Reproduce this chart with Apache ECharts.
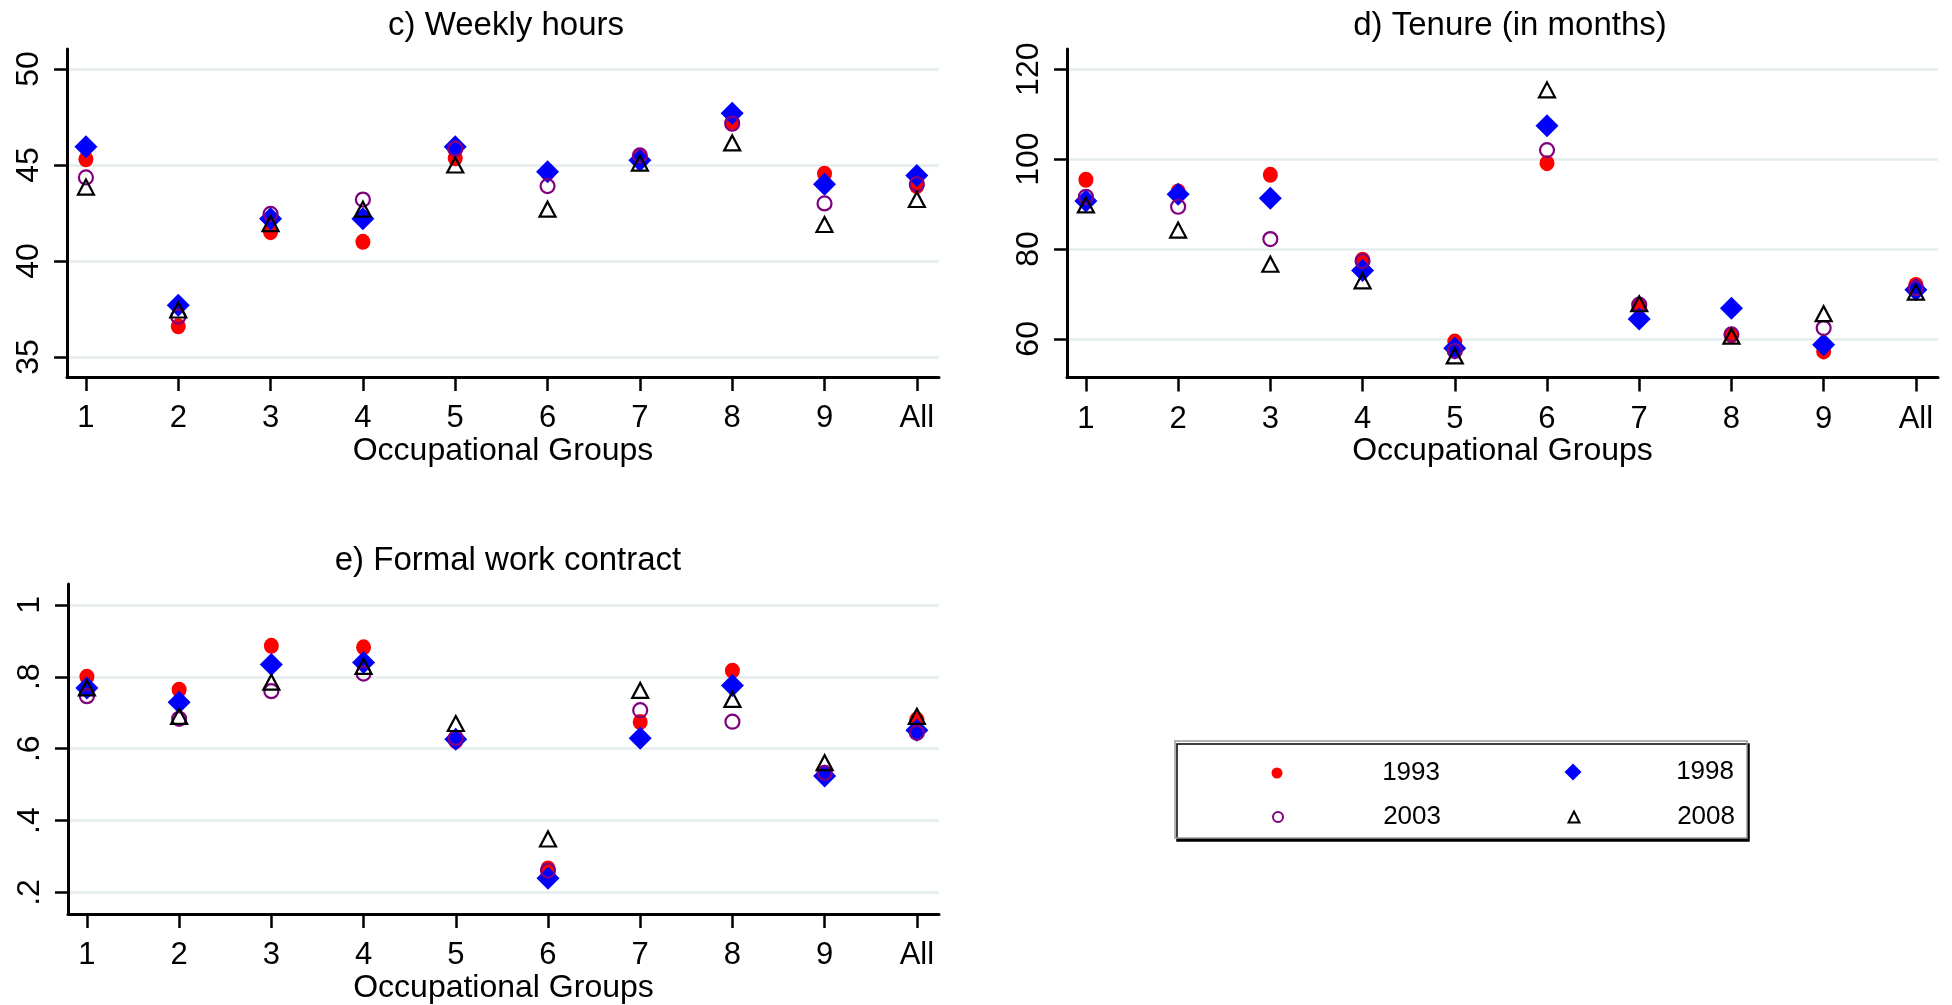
<!DOCTYPE html>
<html>
<head>
<meta charset="utf-8">
<script src="https://cdn.jsdelivr.net/npm/echarts@6/dist/echarts.min.js"></script>
<style>
  html, body { margin: 0; padding: 0; background: #fff; }
  #chart { width: 1952px; height: 1005px; }
</style>
</head>
<body>
<div id="chart"></div>
<script>
// ---------- data ----------
const categories = ['1', '2', '3', '4', '5', '6', '7', '8', '9', 'All'];
const years = ['1993', '1998', '2003', '2008'];

// c) Weekly hours
const hours1993 = [45.3, 36.6, 41.5, 41.0, 45.35, 44.6, 45.4, 47.25, 44.55, 43.9];
const hours1998 = [45.95, 37.7, 42.2, 42.2, 45.95, 44.65, 45.25, 47.7, 44.0, 44.45];
const hours2003 = [44.35, 37.1, 42.45, 43.2, 45.85, 43.9, 45.5, 47.15, 43.0, 44.0];
const hours2008 = [43.85, 37.45, 41.95, 42.7, 45.0, 42.7, 45.1, 46.15, 41.9, 43.2];

// d) Tenure (in months)
const tenure1993 = [95.4, 92.8, 96.5, 77.6, 59.4, 99.1, 67.3, 60.8, 57.2, 72.0];
const tenure1998 = [90.7, 92.2, 91.3, 75.2, 57.9, 107.4, 64.4, 66.8, 58.7, 70.9];
const tenure2003 = [91.6, 89.4, 82.2, 77.3, 57.3, 102.0, 67.6, 61.0, 62.4, 71.3];
const tenure2008 = [89.8, 84.2, 76.6, 72.9, 56.2, 115.4, 67.8, 60.6, 65.6, 70.4];

// e) Formal work contract
const formal1993 = [0.80, 0.764, 0.886, 0.882, 0.621, 0.267, 0.674, 0.817, 0.532, 0.681];
const formal1998 = [0.769, 0.729, 0.834, 0.840, 0.626, 0.240, 0.629, 0.776, 0.524, 0.651];
const formal2003 = [0.746, 0.683, 0.760, 0.809, 0.630, 0.261, 0.707, 0.675, 0.533, 0.644];
const formal2008 = [0.769, 0.690, 0.785, 0.829, 0.670, 0.349, 0.762, 0.737, 0.561, 0.690];

// tick values / labels
const yTicksC = [35, 40, 45, 50];
const yTicksD = [60, 80, 100, 120];
const yTicksE = [0.2, 0.4, 0.6, 0.8, 1];
const yTickLabelsE = ['.2', '.4', '.6', '.8', '1'];

const titles = ['c) Weekly hours', 'd) Tenure (in months)', 'e) Formal work contract'];
const xAxisName = 'Occupational Groups';

// ---------- build ----------
const FONT = "'Liberation Sans', Arial, sans-serif";
const xPos = categories.map((c, i) => i + 1);
const pairs = vals => vals.map((v, i) => [xPos[i], v]);

const panels = [
  { data: [hours1993, hours1998, hours2003, hours2008], ticks: yTicksC, labels: null, min: 33.96, max: 51.04 },
  { data: [tenure1993, tenure1998, tenure2003, tenure2008], ticks: yTicksD, labels: null, min: 51.4, max: 124.5 },
  { data: [formal1993, formal1998, formal2003, formal2008], ticks: yTicksE, labels: yTickLabelsE, min: 0.14, max: 1.058 }
];

const grids = [
  { left: 67, top: 49, width: 872, height: 328 },
  { left: 1067, top: 49, width: 871, height: 328.5 },
  { left: 68, top: 584, width: 871, height: 331 }
];

const seriesStyles = [
  { symbol: 'circle', symbolSize: [15, 16], itemStyle: { color: '#ff0000', opacity: 1 } },
  { symbol: 'diamond', symbolSize: [23, 23], itemStyle: { color: '#0000ff', opacity: 1 } },
  { symbol: 'circle', symbolSize: [14, 14], itemStyle: { color: 'rgba(0,0,0,0)', borderColor: '#800080', borderWidth: 2.2, opacity: 1 } },
  { symbol: 'triangle', symbolSize: [16, 15], itemStyle: { color: 'rgba(0,0,0,0)', borderColor: '#000000', borderWidth: 2.2, opacity: 1 } }
];

const xAxes = grids.map((g, i) => ({
  type: 'value', gridIndex: i, min: 0.795, max: 10.24,
  axisLine: { show: true, onZero: false, lineStyle: { color: '#000', width: 3 } },
  axisTick: { show: true, customValues: xPos, length: 14, lineStyle: { color: '#000', width: 2.5 } },
  axisLabel: {
    customValues: xPos, color: '#000', fontSize: 31, fontFamily: FONT, margin: 26,
    formatter: v => categories[Math.round(v) - 1]
  },
  splitLine: { show: false },
  name: xAxisName, nameLocation: 'middle', nameGap: 56,
  nameTextStyle: { color: '#000', fontSize: 32, fontFamily: FONT }
}));

const yAxes = panels.map((p, i) => ({
  type: 'value', gridIndex: i, min: p.min, max: p.max,
  axisLine: { show: true, onZero: false, lineStyle: { color: '#000', width: 3 } },
  axisTick: { show: true, customValues: p.ticks, length: 13, lineStyle: { color: '#000', width: 2.5 } },
  axisLabel: {
    customValues: p.ticks, rotate: 90, color: '#000', fontSize: 32, fontFamily: FONT, margin: 22,
    formatter: v => {
      const k = p.ticks.findIndex(t => Math.abs(t - v) < 1e-9);
      return p.labels ? p.labels[k] : String(p.ticks[k]);
    }
  },
  splitLine: { show: true, lineStyle: { color: '#e4ecee', width: 2.5 } }
}));

const series = [];
panels.forEach((p, pi) => {
  p.data.forEach((vals, si) => {
    series.push(Object.assign({
      type: 'scatter', name: years[si], xAxisIndex: pi, yAxisIndex: pi,
      data: pairs(vals), z: 2 + si, silent: true
    }, JSON.parse(JSON.stringify(seriesStyles[si]))));
  });
});

const titleComps = [
  { text: titles[0], left: 506, top: 9 },
  { text: titles[1], left: 1510, top: 9 },
  { text: titles[2], left: 508, top: 544 }
].map(t => ({
  text: t.text, left: t.left, top: t.top, textAlign: 'center', padding: 0,
  textStyle: { color: '#000', fontSize: 33, fontWeight: 'normal', fontFamily: FONT }
}));

// legend entries: one small legend per year (marker centre x, row centre y, marker size, text right edge)
const legendLayout = [
  { name: years[0], cx: 1277, cy: 775, w: 11, h: 16, right: 1440 },
  { name: years[1], cx: 1573, cy: 774, w: 17, h: 17, right: 1734 },
  { name: years[2], cx: 1277, cy: 819, w: 10, h: 13, right: 1440 },
  { name: years[3], cx: 1573, cy: 819, w: 11, h: 11, right: 1734 }
];
const legends = legendLayout.map(L => {
  const left = L.cx - L.w / 2;
  const textW = L.right - (left + L.w + 5);
  return {
    data: [L.name], orient: 'vertical', left: left, top: L.cy - 15,
    itemWidth: L.w, itemHeight: L.h, itemGap: 5, padding: 0, selectedMode: false, z: 10,
    formatter: n => '{a|' + n + '}',
    textStyle: {
      color: '#000', fontSize: 26, fontFamily: FONT,
      rich: { a: { width: textW, align: 'right', fontSize: 26, fontFamily: FONT, color: '#000', lineHeight: 30 } }
    }
  };
});

const option = {
  backgroundColor: '#fff',
  animation: false,
  title: titleComps,
  grid: grids,
  xAxis: xAxes,
  yAxis: yAxes,
  series: series,
  legend: legends,
  graphic: [{
    type: 'rect', z: 1, shape: { x: 1175, y: 741, width: 572, height: 97 },
    style: { fill: '#fff', stroke: '#9a9a9a', lineWidth: 1.5, shadowColor: '#000', shadowOffsetX: 2, shadowOffsetY: 3, shadowBlur: 0 }
  }]
};

const chart = echarts.init(document.getElementById('chart'), null, { renderer: 'canvas' });
chart.setOption(option);
</script>
</body>
</html>
